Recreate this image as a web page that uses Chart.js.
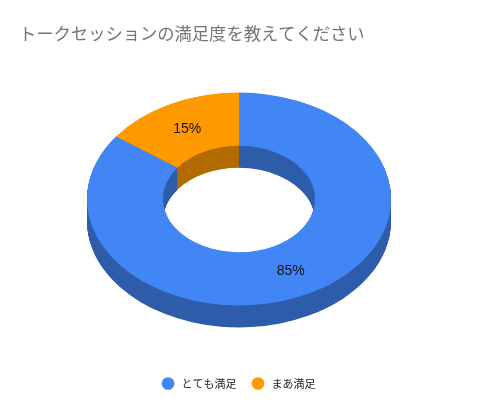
<!DOCTYPE html>
<html>
<head>
<meta charset="utf-8">
<style>
html, body { margin: 0; padding: 0; background: #fff; }
#wrap { width: 478px; height: 411px; }
</style>
<script src="https://cdn.jsdelivr.net/npm/chart.js@4/dist/chart.umd.min.js"></script>
</head>
<body>
<div id="wrap"><canvas id="pie"></canvas></div>
<script>
const titleText = "トークセッションの満足度を教えてください";
const categories = ["とても満足", "まあ満足"];
const values = [85, 15];
const colors = ["#4285F4", "#FF9900"];

const jpFont = "'Noto Sans CJK JP', 'Noto Sans', sans-serif";
const centerY = 199;
const squash = 0.7;
const depth = 22;

// tilts the doughnut and stacks darker copies under it for the 3d side
const tilt = {
    id: "tilt",
    beforeDatasetsDraw(chart) {
        const ctx = chart.ctx;
        const arcs = chart.getDatasetMeta(0).data;
        const cx = arcs[0].x, cy = arcs[0].y;
        const place = function (off) {
            ctx.translate(cx, centerY + off);
            ctx.scale(1, squash);
            ctx.translate(-cx, -cy);
        };
        for (let off = depth; off >= 0; off -= 0.5) {
            ctx.save();
            place(off);
            if (off > 0) ctx.filter = "brightness(0.7)";
            arcs.forEach(function (a) { a.draw(ctx); });
            ctx.restore();
        }
        ctx.save();
        ctx.fillStyle = "#111";
        ctx.font = "14px 'Liberation Sans', Arial, sans-serif";
        ctx.textAlign = "center";
        ctx.textBaseline = "middle";
        const total = values.reduce(function (s, v) { return s + v; }, 0);
        arcs.forEach(function (a, i) {
            const p = a.getCenterPoint();
            const y = centerY + (p.y - cy) * squash + 1;
            ctx.fillText(Math.round(values[i] / total * 100) + "%", p.x, y);
        });
        ctx.restore();
        return false;
    }
};

new Chart(document.getElementById("pie"), {
    type: "doughnut",
    data: {
        labels: categories,
        datasets: [{ data: values, backgroundColor: colors, borderWidth: 0 }]
    },
    options: {
        responsive: true,
        maintainAspectRatio: false,
        animation: false,
        radius: 152,
        cutout: "50%",
        layout: { padding: { left: 19, right: 19, top: 23, bottom: 12 } },
        plugins: {
            title: {
                display: true,
                text: titleText,
                align: "start",
                color: "#757575",
                font: { family: jpFont, size: 17.3, weight: "normal" },
                padding: { top: 0, bottom: 10 }
            },
            legend: {
                position: "bottom",
                labels: {
                    usePointStyle: true,
                    pointStyle: "circle",
                    boxWidth: 12,
                    boxHeight: 9,
                    padding: 16,
                    color: "#222",
                    font: { family: jpFont, size: 11 },
                    generateLabels(chart) {
                        const items = Chart.overrides.doughnut.plugins.legend.labels.generateLabels(chart);
                        items.forEach(function (it) { it.text = " " + it.text; });
                        return items;
                    }
                }
            },
            tooltip: { enabled: false }
        }
    },
    plugins: [tilt]
});
</script>
</body>
</html>
